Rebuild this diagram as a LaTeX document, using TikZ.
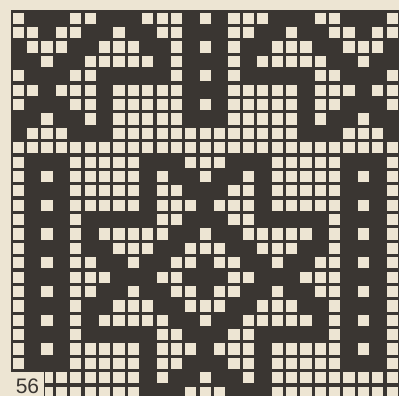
\documentclass[tikz,border=0pt]{standalone}
\usepackage{fontspec}
\setsansfont{Liberation Sans}
\usepackage{tikz}
\definecolor{chartink}{RGB}{58,54,50}
\definecolor{chartpaper}{RGB}{237,229,211}

\begin{document}
\begin{tikzpicture}[
    x=1pt, y=-1pt,
    cell/.style={fill=chartpaper},
    pagenum/.style={anchor=base, inner sep=0pt, text=chartink,
        font=\sffamily\fontsize{21}{21}\selectfont}
]
\useasboundingbox (0,0) rectangle (399,396);
\fill[chartpaper] (0,0) rectangle (399,396);
\fill[chartink] (10.5,10.5) rectangle (399,396);

% open squares of the chart, row by row
\foreach \r/\cols in {
    0/{0,4,5,9,10,11,13,15,16,17,21,22,26},
    1/{0,1,3,4,7,10,11,15,16,19,22,23,25,26},
    2/{1,2,3,6,7,8,11,13,15,18,19,20,23,24,25},
    3/{2,5,6,7,8,9,11,15,17,18,19,20,21,24},
    4/{0,4,5,11,13,15,21,22,26},
    5/{0,1,3,4,5,7,8,9,10,11,15,16,17,18,19,21,22,23,25,26},
    6/{0,4,5,7,8,9,10,11,13,15,16,17,18,19,21,22,26},
    7/{2,5,7,8,9,10,11,15,16,17,18,19,21,24},
    8/{1,2,3,7,8,9,10,11,12,13,14,15,16,17,18,19,23,24,25},
    9/{0,1,...,26},
    10/{0,4,5,6,7,8,12,13,14,18,19,20,21,22,26},
    11/{0,2,4,5,6,7,8,10,13,16,18,19,20,21,22,24,26},
    12/{0,4,5,6,7,8,10,11,15,16,18,19,20,21,22,26},
    13/{0,2,4,5,6,7,8,10,11,12,14,15,16,18,19,20,21,22,24,26},
    14/{0,4,10,11,15,16,22,26},
    15/{0,2,4,6,7,8,9,10,13,16,17,18,19,20,22,24,26},
    16/{0,4,7,8,9,12,13,14,17,18,19,22,26},
    17/{0,2,4,5,8,11,12,14,15,18,21,22,24,26},
    18/{0,4,5,6,10,11,15,16,20,21,22,26},
    19/{0,2,4,5,8,11,12,14,15,18,21,22,24,26},
    20/{0,4,7,8,9,12,13,14,17,18,19,22,26},
    21/{0,2,4,6,7,8,9,10,13,16,17,18,19,20,22,24,26},
    22/{0,4,10,11,15,16,22,26},
    23/{0,2,4,5,6,7,8,10,11,12,14,15,16,18,19,20,21,22,24,26},
    24/{0,4,5,6,7,8,10,11,15,16,18,19,20,21,22,26},
    25/{2,3,4,5,6,7,8,10,13,16,18,19,20,21,22,23,24,25,26},
    26/{2,3,4,5,6,7,8,12,13,14,18,19,20,21,22,23,24,25,26}}{
  \foreach \c in \cols
    \fill[cell] ({12.7+14.38*\c},{12.7+14.38*\r}) rectangle ++(11.2,11.2);
}

\fill[chartpaper] (0,371.5) rectangle (43.5,396);
\draw[chartink, line width=1.4pt] (44.2,371.5) -- (44.2,396);
\node[pagenum] (pageno) at (27.5,393) {56};
\end{tikzpicture}
\end{document}
